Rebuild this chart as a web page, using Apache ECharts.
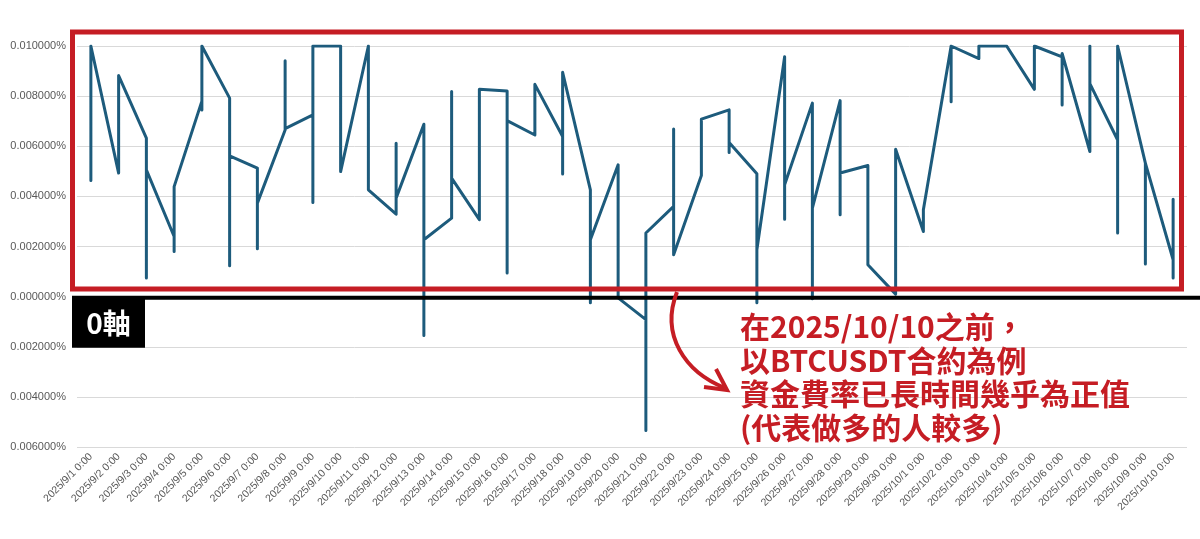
<!DOCTYPE html>
<html>
<head>
<meta charset="utf-8">
<script src="https://cdn.jsdelivr.net/npm/echarts@6/dist/echarts.min.js"></script>
<style>
html,body{margin:0;padding:0;background:#fff;}
#chart{width:1200px;height:539px;}
</style>
</head>
<body>
<div id="chart"></div>
<script>
// x-axis category labels (one per day)
const dayLabels = [
  '2025/9/1 0:00','2025/9/2 0:00','2025/9/3 0:00','2025/9/4 0:00','2025/9/5 0:00',
  '2025/9/6 0:00','2025/9/7 0:00','2025/9/8 0:00','2025/9/9 0:00','2025/9/10 0:00',
  '2025/9/11 0:00','2025/9/12 0:00','2025/9/13 0:00','2025/9/14 0:00','2025/9/15 0:00',
  '2025/9/16 0:00','2025/9/17 0:00','2025/9/18 0:00','2025/9/19 0:00','2025/9/20 0:00',
  '2025/9/21 0:00','2025/9/22 0:00','2025/9/23 0:00','2025/9/24 0:00','2025/9/25 0:00',
  '2025/9/26 0:00','2025/9/27 0:00','2025/9/28 0:00','2025/9/29 0:00','2025/9/30 0:00',
  '2025/10/1 0:00','2025/10/2 0:00','2025/10/3 0:00','2025/10/4 0:00','2025/10/5 0:00',
  '2025/10/6 0:00','2025/10/7 0:00','2025/10/8 0:00','2025/10/9 0:00','2025/10/10 0:00'
];

// funding rate (%) — three settlements per day (0:00, 8:00, 16:00), in order
const fundingRates = [
  [0.01000, 0.00463, 0.01000],
  [0.00493, 0.00700, 0.00882],
  [0.00632, 0.00074, 0.00506],
  [0.00240, 0.00180, 0.00439],
  [0.00780, 0.00745, 0.01000],
  [0.00792, 0.00123, 0.00562],
  [0.00513, 0.00191, 0.00373],
  [0.00665, 0.00941, 0.00670],
  [0.00725, 0.00376, 0.01000],
  [0.01000, 0.01000, 0.00499],
  [0.01000, 0.01000, 0.00426],
  [0.00329, 0.00612, 0.00393],
  [0.00688, -0.00155, 0.00227],
  [0.00313, 0.00818, 0.00473],
  [0.00307, 0.00600, 0.00827],
  [0.00820, 0.00094, 0.00702],
  [0.00645, 0.00700, 0.00847],
  [0.00639, 0.00489, 0.00895],
  [0.00426, -0.00024, 0.00227],
  [0.00526, 0.00200, -0.00005],
  [-0.00092, -0.00534, 0.00254],
  [0.00360, 0.00669, 0.00167],
  [0.00483, 0.00600, 0.00708],
  [0.00745, 0.00575, 0.00615],
  [0.00490, -0.00024, 0.00187],
  [0.00957, 0.00309, 0.00446],
  [0.00772, -0.00008, 0.00353],
  [0.00782, 0.00327, 0.00493],
  [0.00523, 0.00300, 0.00127],
  [0.00010, 0.00010, 0.00588],
  [0.00260, 0.00300, 0.00347],
  [0.01000, 0.00778, 0.01000],
  [0.00950, 0.01000, 0.01000],
  [0.01000, 0.01000, 0.01000],
  [0.00827, 0.00900, 0.01000],
  [0.00957, 0.00765, 0.00970],
  [0.00579, 0.01000, 0.00850],
  [0.00625, 0.00254, 0.01000],
  [0.00533, 0.00130, 0.00533],
  [0.00147, 0.00074, 0.00389]
];

// y-axis range / ticks (%)
const yMin = -0.006, yMax = 0.010, yStep = 0.002;

const noteLines = ['在2025/10/10之前，', '以BTCUSDT合約為例', '資金費率已長時間幾乎為正值', '(代表做多的人較多)'];
const zeroLabel = '0軸';

const seriesData = [];
fundingRates.forEach((day, i) => day.forEach(v => seriesData.push([i, v])));

const chart = echarts.init(document.getElementById('chart'), null, {renderer: 'canvas'});
const LABEL_FONT = '"Liberation Sans", Arial, sans-serif';
chart.setOption({
  animation: false,
  backgroundColor: '#ffffff',
  grid: {left: 77, right: 13, top: 46, bottom: 92, containLabel: false},
  xAxis: {
    type: 'category',
    data: dayLabels,
    boundaryGap: true,
    axisLine: {show: false},
    axisTick: {show: false},
    splitLine: {show: false},
    axisLabel: {interval: 0, rotate: 45, color: '#595959', fontSize: 10.5, fontFamily: LABEL_FONT, margin: 8}
  },
  yAxis: {
    type: 'value',
    min: yMin, max: yMax, interval: yStep,
    axisLine: {show: false},
    axisTick: {show: false},
    splitLine: {lineStyle: {color: '#d9d9d9', width: 1}},
    axisLabel: {
      color: '#595959', fontSize: 11, fontFamily: LABEL_FONT, margin: 11,
      formatter: v => Math.abs(v).toFixed(6) + '%'
    }
  },
  series: [{
    type: 'line',
    data: seriesData,
    showSymbol: false,
    symbol: 'none',
    lineStyle: {color: '#1d5b7c', width: 3, join: 'round', cap: 'round'},
    z: 2
  }]
});

// annotations
const y0 = chart.convertToPixel({yAxisIndex: 0}, 0);
const red = '#c51d24';
const noteFont = '"Noto Sans CJK TC", "Noto Sans CJK SC", sans-serif';
const graphics = [
  {type: 'rect', z: 100, shape: {x: 72.5, y: 32, width: 1109, height: 257},
   style: {fill: 'none', stroke: red, lineWidth: 5}},
  {type: 'line', z: 100, shape: {x1: 72, y1: y0 + 1, x2: 1200, y2: y0 + 1},
   style: {stroke: '#000', lineWidth: 4}},
  {type: 'rect', z: 100, shape: {x: 72, y: y0 + 1, width: 73, height: 50},
   style: {fill: '#000'}},
  {type: 'text', z: 101, x: 108.5, y: y0 + 27,
   style: {text: zeroLabel, fill: '#fff', font: 'bold 28px ' + noteFont, align: 'center', verticalAlign: 'middle'}},
  {type: 'bezierCurve', z: 100,
   shape: {x1: 677, y1: 292, cpx1: 660, cpy1: 335, cpx2: 685, cpy2: 372, x2: 725, y2: 388},
   style: {stroke: red, lineWidth: 4, fill: 'none'}},
  {type: 'polyline', z: 100, shape: {points: [[704, 387], [727, 390], [716, 369]]},
   style: {stroke: red, lineWidth: 4, fill: 'none', lineJoin: 'miter'}}
];
noteLines.forEach((t, k) => {
  graphics.push({type: 'text', z: 101, x: 740, y: 327 + k * 33.5,
    style: {text: t, fill: red, font: 'bold 30px ' + noteFont, verticalAlign: 'middle'}});
});
chart.setOption({graphic: graphics});
</script>
</body>
</html>
